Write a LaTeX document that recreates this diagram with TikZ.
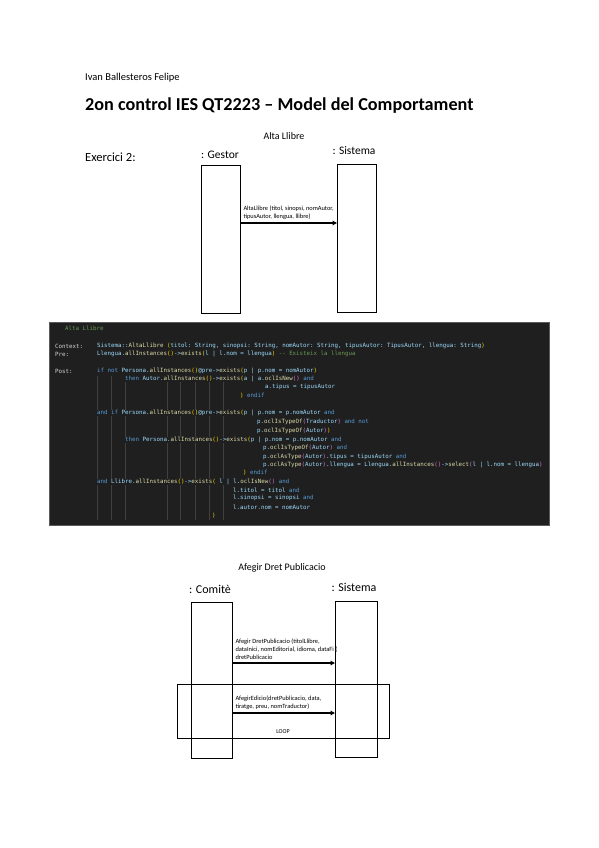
\documentclass[tikz,border=0pt]{standalone}
\usepackage{fontspec}
\setmainfont{Carlito}
\setmonofont{DejaVu Sans Mono}
\usetikzlibrary{arrows.meta,positioning}

\definecolor{codebg}{HTML}{1F1F1F}
\definecolor{codeframe}{HTML}{5A5A5A}
\definecolor{guidegray}{HTML}{404040}
\definecolor{kwblue}{HTML}{569CD6}
\definecolor{idblue}{HTML}{9CDCFE}
\definecolor{fnyellow}{HTML}{DCDCAA}
\definecolor{plaingray}{HTML}{D4D4D4}
\definecolor{cmgreen}{HTML}{6A9955}
\definecolor{brgold}{HTML}{FFD700}
\definecolor{brpurple}{HTML}{DA70D6}

% OCL colouring
\newcommand{\okw}[1]{\textcolor{kwblue}{#1}}
\newcommand{\ofn}[1]{\textcolor{fnyellow}{#1}}
\newcommand{\obra}[1]{\textcolor{brgold}{#1}}
\newcommand{\obrb}[1]{\textcolor{brpurple}{#1}}

\tikzset{
  lifebox/.style={draw, line width=1.3pt, minimum width=39pt, minimum height=148pt, inner sep=0pt, anchor=north west},
  objlbl/.style={inner sep=0pt, font=\fontsize{11.5}{13}\selectfont},
  diagtitle/.style={inner sep=0pt, font=\fontsize{10}{12}\selectfont},
  msg/.style={line width=1.3pt, -{Triangle[length=4.5pt,width=4.5pt]}},
  msgtxt/.style={inner sep=0pt, align=left, font=\fontsize{6.4}{8}\selectfont},
  codeln/.style={anchor=west, inner sep=0pt, fill=codebg, text=idblue, font=\ttfamily\fontsize{5.8}{7}\selectfont},
  guide/.style={draw=guidegray, line width=0.5pt}
}

\begin{document}
\begin{tikzpicture}[x=1pt,y=-1pt]
  \useasboundingbox (0,0) rectangle (599,848);
  % heading
  \node (author) [anchor=west, inner sep=0pt, font=\fontsize{10.5}{12}\selectfont] at (85,78) {Ivan Ballesteros Felipe};
  \node (title) [anchor=west, inner sep=0pt, font=\bfseries\fontsize{18.2}{21}\selectfont] at (85,106) {2on control IES QT2223 – Model del Comportament};
  \node (exer) [anchor=west, inner sep=0pt, font=\fontsize{12.5}{14}\selectfont] at (85,157) {Exercici 2:};

  % diagram: Alta Llibre
  \node (alta) [diagtitle] at (284,136) {Alta Llibre};
  \node (gestor) [lifebox] at (201,165) {};
  \node (sistema) [lifebox] at (337,164) {};
  \node (gestorlbl) [objlbl] at (220,155) {: Gestor};
  \node (sistemalbl) [objlbl] at (354,151) {: Sistema};
  \draw[msg] ([yshift=-58pt]gestor.north east) coordinate (m1) -- (m1 -| sistema.west);
  \node (m1txt) [msgtxt, above right=3pt and 2pt of m1] {AltaLlibre (titol, sinopsi, nomAutor,\\tipusAutor, llengua, llibre)};

  % OCL contract
  \node (codebox) [fill=codebg, draw=codeframe, line width=0.6pt, minimum width=500pt, minimum height=203pt, inner sep=0pt, anchor=north west] at (49,322) {};
  \foreach \gx in {97,111,125,167,180,195,209,223}
    \draw[guide] (\gx,376) -- (\gx,520);
  \node (c0) [codeln, text=cmgreen] at (65,328) {Alta Llibre};
  \node (lctx) [codeln, text=plaingray] at (55,346) {Context:};
  \node (lpre) [codeln, text=plaingray] at (55,354) {Pre:};
  \node (lpost) [codeln, text=plaingray] at (55,371) {Post:};
  \node (c1) [codeln] at (97,346) {Sistema::\ofn{AltaLlibre} \obra{(}titol: String, sinopsi: String, nomAutor: String, tipusAutor: TipusAutor, llengua: String\obra{)}};
  \node (c2) [codeln] at (97,354) {Llengua.\ofn{allInstances}\obra{()}->\ofn{exists}\obra{(}l | l.nom = llengua\obra{)} \textcolor{cmgreen}{-- Existeix la llengua}};
  \node (c3) [codeln] at (97,371) {\okw{if not} Persona.\ofn{allInstances}\obra{()}@pre->\ofn{exists}\obra{(}p | p.nom = nomAutor\obra{)}};
  \node (c4) [codeln] at (125,379) {\okw{then} Autor.\ofn{allInstances}\obra{()}->\ofn{exists}\obra{(}a | a.\ofn{oclIsNew}\obrb{()} \okw{and}};
  \node (c5) [codeln] at (265,387) {a.tipus = tipusAutor};
  \node (c6) [codeln] at (240,396) {\obra{)} \okw{endif}};
  \node (c7) [codeln] at (97,413) {\okw{and if} Persona.\ofn{allInstances}\obra{()}@pre->\ofn{exists}\obra{(}p | p.nom = p.nomAutor \okw{and}};
  \node (c8) [codeln] at (257,422) {p.\ofn{oclIsTypeOf}\obrb{(}Traductor\obrb{)} \okw{and not}};
  \node (c9) [codeln] at (257,431) {p.\ofn{oclIsTypeOf}\obrb{(}Autor\obrb{)}\obra{)}};
  \node (c10) [codeln] at (125,440) {\okw{then} Persona.\ofn{allInstances}\obra{()}->\ofn{exists}\obra{(}p | p.nom = p.nomAutor \okw{and}};
  \node (c11) [codeln] at (263,448) {p.\ofn{oclIsTypeOf}\obrb{(}Autor\obrb{)} \okw{and}};
  \node (c12) [codeln] at (263,457) {p.\ofn{oclAsType}\obrb{(}Autor\obrb{)}.tipus = tipusAutor \okw{and}};
  \node (c13) [codeln] at (263,465) {p.\ofn{oclAsType}\obrb{(}Autor\obrb{)}.llengua = Llengua.\ofn{allInstances}\obrb{()}->\ofn{select}\obrb{(}l | l.nom = llengua\obrb{)}};
  \node (c14) [codeln] at (243,473) {\obra{)} \okw{endif}};
  \node (c15) [codeln] at (97,482) {\okw{and} Llibre.\ofn{allInstances}\obra{()}->\ofn{exists}\obra{(} l | l.\ofn{oclIsNew}\obrb{()} \okw{and}};
  \node (c16) [codeln] at (233,490) {l.titol = titol \okw{and}};
  \node (c17) [codeln] at (233,498) {l.sinopsi = sinopsi \okw{and}};
  \node (c18) [codeln] at (233,507) {l.autor.nom = nomAutor};
  \node (c19) [codeln] at (212,516) {\obra{)}};

  % diagram: Afegir Dret Publicacio
  \node (afegir) [diagtitle] at (282,568) {Afegir Dret Publicacio};
  \node (comite) [lifebox, minimum width=41pt, minimum height=156pt] at (191,602) {};
  \node (sistemab) [lifebox, minimum width=42pt, minimum height=156pt] at (335,601) {};
  \node (comitelbl) [objlbl, font=\fontsize{12}{14}\selectfont] at (210,589) {: Comitè};
  \node (sistemablbl) [objlbl, font=\fontsize{12}{14}\selectfont] at (354,587) {: Sistema};
  \node (loopframe) [draw, line width=0.6pt, minimum width=212pt, minimum height=54pt, inner sep=0pt, anchor=north west] at (177,684) {};
  \node (looplbl) [inner sep=0pt, font=\fontsize{6}{7}\selectfont] at (283,732) {LOOP};
  \draw[msg] ([yshift=-61pt]comite.north east) coordinate (m2) -- (m2 -| sistemab.west);
  \node (m2txt) [msgtxt, above right=3pt and 2pt of m2] {Afegir DretPublicacio (titolLlibre,\\dataInici, nomEditorial, idioma, dataFi (\\dretPublicacio};
  \draw[msg] ([yshift=-111pt]comite.north east) coordinate (m3) -- (m3 -| sistemab.west);
  \node (m3txt) [msgtxt, above right=3pt and 2pt of m3] {AfegirEdicio(dretPublicacio, data,\\tiratge, preu, nomTraductor)};
\end{tikzpicture}
\end{document}
